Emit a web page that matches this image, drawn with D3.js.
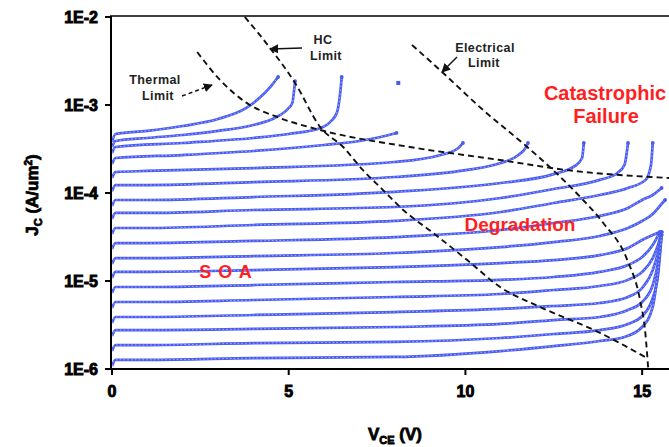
<!DOCTYPE html>
<html><head><meta charset="utf-8">
<script src="https://cdn.jsdelivr.net/npm/d3@7"></script>
<style>body{margin:0;background:#fff}svg{display:block}</style>
</head><body><svg id="c" width="669" height="447"></svg>
<script>
// ---- data: each curve is a list of [Vce (V), Jc (A/um^2)] ----
const c1 = [[0,3.8e-4],[0.1,4.68e-4],[1,5.07e-4],[2,5.77e-4],[3,6.93e-4],[3.8,9.25e-4],[4.2,1.23e-3],[4.5,1.64e-3],[4.7,2.08e-3]];
const c2 = [[0,3.33e-4],[0.1,3.9e-4],[1,4.22e-4],[2,4.56e-4],[3,5.07e-4],[4,5.93e-4],[4.6,7.12e-4],[5.0,9.25e-4],[5.1,1.05e-3],[5.18,1.87e-3]];
const c3 = [[0,2.85e-4],[0.1,3.33e-4],[2,3.7e-4],[4,4.22e-4],[5,4.68e-4],[5.9,5.48e-4],[6.2,6.58e-4],[6.37,8.33e-4],[6.45,1.3e-3],[6.5,2.08e-3]];
const c4 = [[0,2.14e-4],[0.1,2.5e-4],[2,2.7e-4],[4,3.0e-4],[6,3.51e-4],[7,3.9e-4],[7.6,4.33e-4],[8.05,4.81e-4]];
const c5 = [[0,1.48e-4],[0.1,1.73e-4],[1,1.78e-4],[4,1.92e-4],[8,2.25e-4],[9.3,2.7e-4],[9.8,3.25e-4],[9.93,3.7e-4]];
const c6 = [[0,1.05e-4],[0.1,1.23e-4],[1,1.23e-4],[4,1.33e-4],[8,1.52e-4],[10,1.82e-4],[11,2.19e-4],[11.5,2.7e-4],[11.7,3.25e-4],[11.77,3.7e-4]];
const c7 = [[0,7.12e-5],[0.1,8.33e-5],[1,8.33e-5],[4,9.0e-5],[8,1.03e-4],[11,1.3e-4],[12.5,1.64e-4],[13.1,2.03e-4],[13.3,2.5e-4],[13.35,3.7e-4]];
const c8 = [[0,5.07e-5],[0.1,5.93e-5],[1,5.93e-5],[4,6.41e-5],[8,6.93e-5],[11,8.77e-5],[12.5,1.11e-4],[13.8,1.41e-4],[14.3,1.69e-4],[14.5,2.08e-4],[14.6,3.7e-4]];
const c9 = [[0,3.42e-5],[0.1,4.0e-5],[1,4.0e-5],[4,4.33e-5],[8,4.81e-5],[11,6.08e-5],[12.5,7.69e-5],[13.8,9.49e-5],[14.6,1.14e-4],[15.1,1.41e-4],[15.25,2.08e-4],[15.3,3.7e-4]];
const c10 = [[0,2.31e-5],[0.1,2.7e-5],[1,2.7e-5],[4,2.85e-5],[8,3.16e-5],[11,3.8e-5],[12.5,4.56e-5],[13.8,5.48e-5],[14.6,6.75e-5],[15,8.33e-5],[15.3,9.49e-5],[15.55,1.14e-4]];
const c11 = [[0,1.56e-5],[0.1,1.82e-5],[1,1.82e-5],[4,1.92e-5],[8,2.08e-5],[11,2.43e-5],[12.5,2.77e-5],[13.8,3.25e-5],[14.6,4.0e-5],[15,4.81e-5],[15.3,5.77e-5],[15.5,7.12e-5],[15.65,8.33e-5]];
const c12 = [[0,1.08e-5],[0.1,1.27e-5],[1,1.27e-5],[4,1.33e-5],[8,1.44e-5],[11,1.6e-5],[12.5,1.73e-5],[13.8,1.97e-5],[14.6,2.37e-5],[15,2.92e-5],[15.3,3.33e-5],[15.5,3.6e-5]];
const c13 = [[0,7.31e-6],[0.1,8.55e-6],[1,8.55e-6],[4,9.0e-6],[8,9.74e-6],[11,1.03e-5],[12.5,1.11e-5],[13.8,1.27e-5],[14.6,1.52e-5],[15,1.87e-5],[15.3,2.57e-5],[15.5,3.6e-5]];
const c14 = [[0,4.93e-6],[0.1,5.77e-6],[1,5.77e-6],[4,6.08e-6],[8,6.58e-6],[11,7.12e-6],[12.5,7.9e-6],[13.8,8.77e-6],[14.6,1.03e-5],[15,1.27e-5],[15.3,1.82e-5],[15.45,2.57e-5],[15.55,3.6e-5]];
const c15 = [[0,3.33e-6],[0.1,3.9e-6],[1,3.9e-6],[4,4.11e-6],[8,4.44e-6],[11,4.81e-6],[12.5,5.2e-6],[13.8,5.62e-6],[14.6,6.58e-6],[15,8.33e-6],[15.3,1.33e-5],[15.45,2.14e-5],[15.55,3.6e-5]];
const c16 = [[0,2.37e-6],[0.1,2.77e-6],[1,2.77e-6],[4,2.85e-6],[8,3.0e-6],[11,3.25e-6],[12.5,3.6e-6],[13.8,3.9e-6],[14.6,4.68e-6],[15,5.77e-6],[15.3,9.0e-6],[15.45,1.64e-5],[15.55,3.6e-5]];
const c17 = [[0,1.6e-6],[0.1,1.87e-6],[1,1.87e-6],[4,1.97e-6],[8,2.03e-6],[11,2.25e-6],[12.5,2.5e-6],[13.8,2.77e-6],[14.6,3.25e-6],[15,4.0e-6],[15.3,6.41e-6],[15.45,1.17e-5],[15.55,3.33e-5]];
const c18 = [[0,1.08e-6],[0.1,1.27e-6],[1,1.27e-6],[4,1.33e-6],[8,1.37e-6],[11,1.6e-6],[12.5,1.82e-6],[13.8,2.08e-6],[14.5,2.31e-6],[15,3.0e-6],[15.3,5.07e-6],[15.45,1.33e-5],[15.55,3.33e-5]];
const curves = [c1,c2,c3,c4,c5,c6,c7,c8,c9,c10,c11,c12,c13,c14,c15,c16,c17,c18];
const isolatedPoints = [[8.1,1.78e-3]];

// limit lines
const thermalLimit = [[2.41,4.0e-3],[3.06,1.92e-3],[3.82,1.05e-3],[4.67,7.31e-4],[5.89,5.2e-4],[8.43,3.33e-4],[10.98,2.37e-4],[12.88,1.82e-4],[15.76,1.48e-4]];
const hcLimit = [[3.76,1.0e-2],[4.47,4.45e-3],[5.18,1.78e-3],[5.89,5.62e-4],[6.54,3.33e-4],[7.10,1.82e-4],[7.67,1.08e-4],[8.24,6.41e-5],[9.09,3.51e-5],[10.05,1.73e-5],[10.98,8.55e-6],[12.11,5.07e-6],[13.81,2.57e-6],[15.14,1.33e-6]];
const electricalLimit = [[8.49,4.81e-3],[9.37,2.31e-3],[10.5,8.77e-4],[11.75,3.33e-4],[12.48,1.82e-4],[13.25,9.0e-5],[13.9,4.56e-5],[14.58,1.73e-5],[14.94,6.08e-6],[15.09,2.57e-6],[15.17,1.03e-6]];

const xTicks = [0,5,10,15];
const xTickLabels = ["0","5","10","15"];
const yTicks = [1e-2,1e-3,1e-4,1e-5,1e-6];
const yTickLabels = ["1E-2","1E-3","1E-4","1E-5","1E-6"];

// ---- drawing ----
const svg = d3.select("#c");
const x = d3.scaleLinear().domain([0,15.76]).range([112,669]);
const y = d3.scaleLog().domain([1e-6,1e-2]).range([369,17]);

const blue = "#4a5cf0";
const line = d3.line().x(d=>x(d[0])).y(d=>y(d[1])).curve(d3.curveMonotoneX);

const gc = svg.append("g");
curves.forEach(c=>{
  gc.append("path").attr("d",line(c)).attr("fill","none")
    .attr("stroke",blue).attr("stroke-width",2.7).attr("stroke-linejoin","round");
  gc.append("path").attr("d",line(c)).attr("fill","none")
    .attr("stroke","#a3adfb").attr("stroke-width",1).attr("stroke-dasharray","1.6,2.2");
  const e = c[c.length-1];
  gc.append("circle").attr("cx",x(e[0])).attr("cy",y(e[1])).attr("r",1.9).attr("fill",blue);
});
isolatedPoints.forEach(p=>{
  gc.append("rect").attr("x",x(p[0])-2).attr("y",y(p[1])-2).attr("width",4).attr("height",4).attr("fill",blue);
});

const lim = d3.line().x(d=>x(d[0])).y(d=>y(d[1])).curve(d3.curveMonotoneX);
[thermalLimit, hcLimit, electricalLimit].forEach(l=>{
  svg.append("path").attr("d",lim(l)).attr("fill","none")
    .attr("stroke","#111").attr("stroke-width",1.9).attr("stroke-dasharray","6,4");
});

// axes
const ax = svg.append("g");
ax.append("line").attr("x1",111).attr("x2",669).attr("y1",369).attr("y2",369).attr("stroke","#000").attr("stroke-width",2);
ax.append("line").attr("x1",111).attr("x2",111).attr("y1",16).attr("y2",370).attr("stroke","#000").attr("stroke-width",2);
ax.append("line").attr("x1",110).attr("x2",669).attr("y1",16).attr("y2",16).attr("stroke","#000").attr("stroke-width",1.5);

xTicks.forEach((t,i)=>{
  ax.append("line").attr("x1",x(t)).attr("x2",x(t)).attr("y1",369).attr("y2",375).attr("stroke","#000").attr("stroke-width",2);
  ax.append("text").attr("x",x(t)).attr("y",397).attr("text-anchor","middle")
    .attr("font-family","Liberation Sans, Arial, sans-serif").attr("font-weight","bold").attr("font-size",16)
    .attr("stroke","#000").attr("stroke-width",0.9).text(xTickLabels[i]);
});
yTicks.forEach((t,i)=>{
  ax.append("line").attr("x1",105).attr("x2",111).attr("y1",y(t)).attr("y2",y(t)).attr("stroke","#000").attr("stroke-width",2);
  ax.append("text").attr("x",98).attr("y",y(t)+6).attr("text-anchor","end")
    .attr("font-family","Liberation Sans, Arial, sans-serif").attr("font-weight","bold").attr("font-size",16)
    .attr("stroke","#000").attr("stroke-width",0.9).text(yTickLabels[i]);
});

// axis titles
const xt = svg.append("text").attr("x",395).attr("y",440).attr("text-anchor","middle")
  .attr("font-family","Liberation Sans, Arial, sans-serif").attr("font-weight","bold").attr("font-size",17)
  .attr("stroke","#000").attr("stroke-width",0.8);
xt.append("tspan").text("V");
xt.append("tspan").attr("font-size",11).attr("dy",4).text("CE");
xt.append("tspan").attr("dy",-4).text(" (V)");

const yt = svg.append("text").attr("transform","translate(38,195) rotate(-90)").attr("text-anchor","middle")
  .attr("font-family","Liberation Sans, Arial, sans-serif").attr("font-weight","bold").attr("font-size",17)
  .attr("stroke","#000").attr("stroke-width",0.8);
yt.append("tspan").text("J");
yt.append("tspan").attr("font-size",11).attr("dy",4).text("C");
yt.append("tspan").attr("dy",-4).text(" (A/um");
yt.append("tspan").attr("font-size",10).attr("dy",-6).text("2");
yt.append("tspan").attr("dy",6).text(")");

// annotations
const ann = svg.append("g").attr("font-family","Liberation Sans, Arial, sans-serif").attr("font-weight","bold");
function label(t,xx,yy,size,color,anchor,ls){
  ann.append("text").attr("x",xx).attr("y",yy).attr("font-size",size).attr("fill",color)
    .attr("text-anchor",anchor||"middle").attr("letter-spacing",ls||0).text(t);
}
label("Thermal",155,84,12.5,"#222","middle",0.4);
label("Limit",158,100,12.5,"#222","middle",0.4);
label("HC",323,44,12.5,"#222","middle",0.4);
label("Limit",326,60,12.5,"#222","middle",0.4);
label("Electrical",485,52,12.5,"#222","middle",0.4);
label("Limit",484,67,12.5,"#222","middle",0.4);
label("Catastrophic",605,100,20,"#ff1f1f","middle",0);
label("Failure",606,123,20,"#ff1f1f","middle",0);
label("Degradation",520,231,19,"#ff1f1f","middle",0);
label("S O A",226,278,18,"#ff1f1f","middle",1);

svg.append("defs").append("marker").attr("id","ah").attr("viewBox","0 0 10 10").attr("refX",9).attr("refY",5)
  .attr("markerWidth",6).attr("markerHeight",6).attr("orient","auto")
  .append("path").attr("d","M0,0L10,5L0,10z").attr("fill","#111");
function arrow(x1,y1,x2,y2,dash){
  svg.append("line").attr("x1",x1).attr("y1",y1).attr("x2",x2).attr("y2",y2)
    .attr("stroke","#111").attr("stroke-width",1.5).attr("stroke-dasharray",dash||null).attr("marker-end","url(#ah)");
}
arrow(182,96,212,85,"4,3");
arrow(302,48,270,49);
arrow(457,57,442,72);
</script>
</body></html>
